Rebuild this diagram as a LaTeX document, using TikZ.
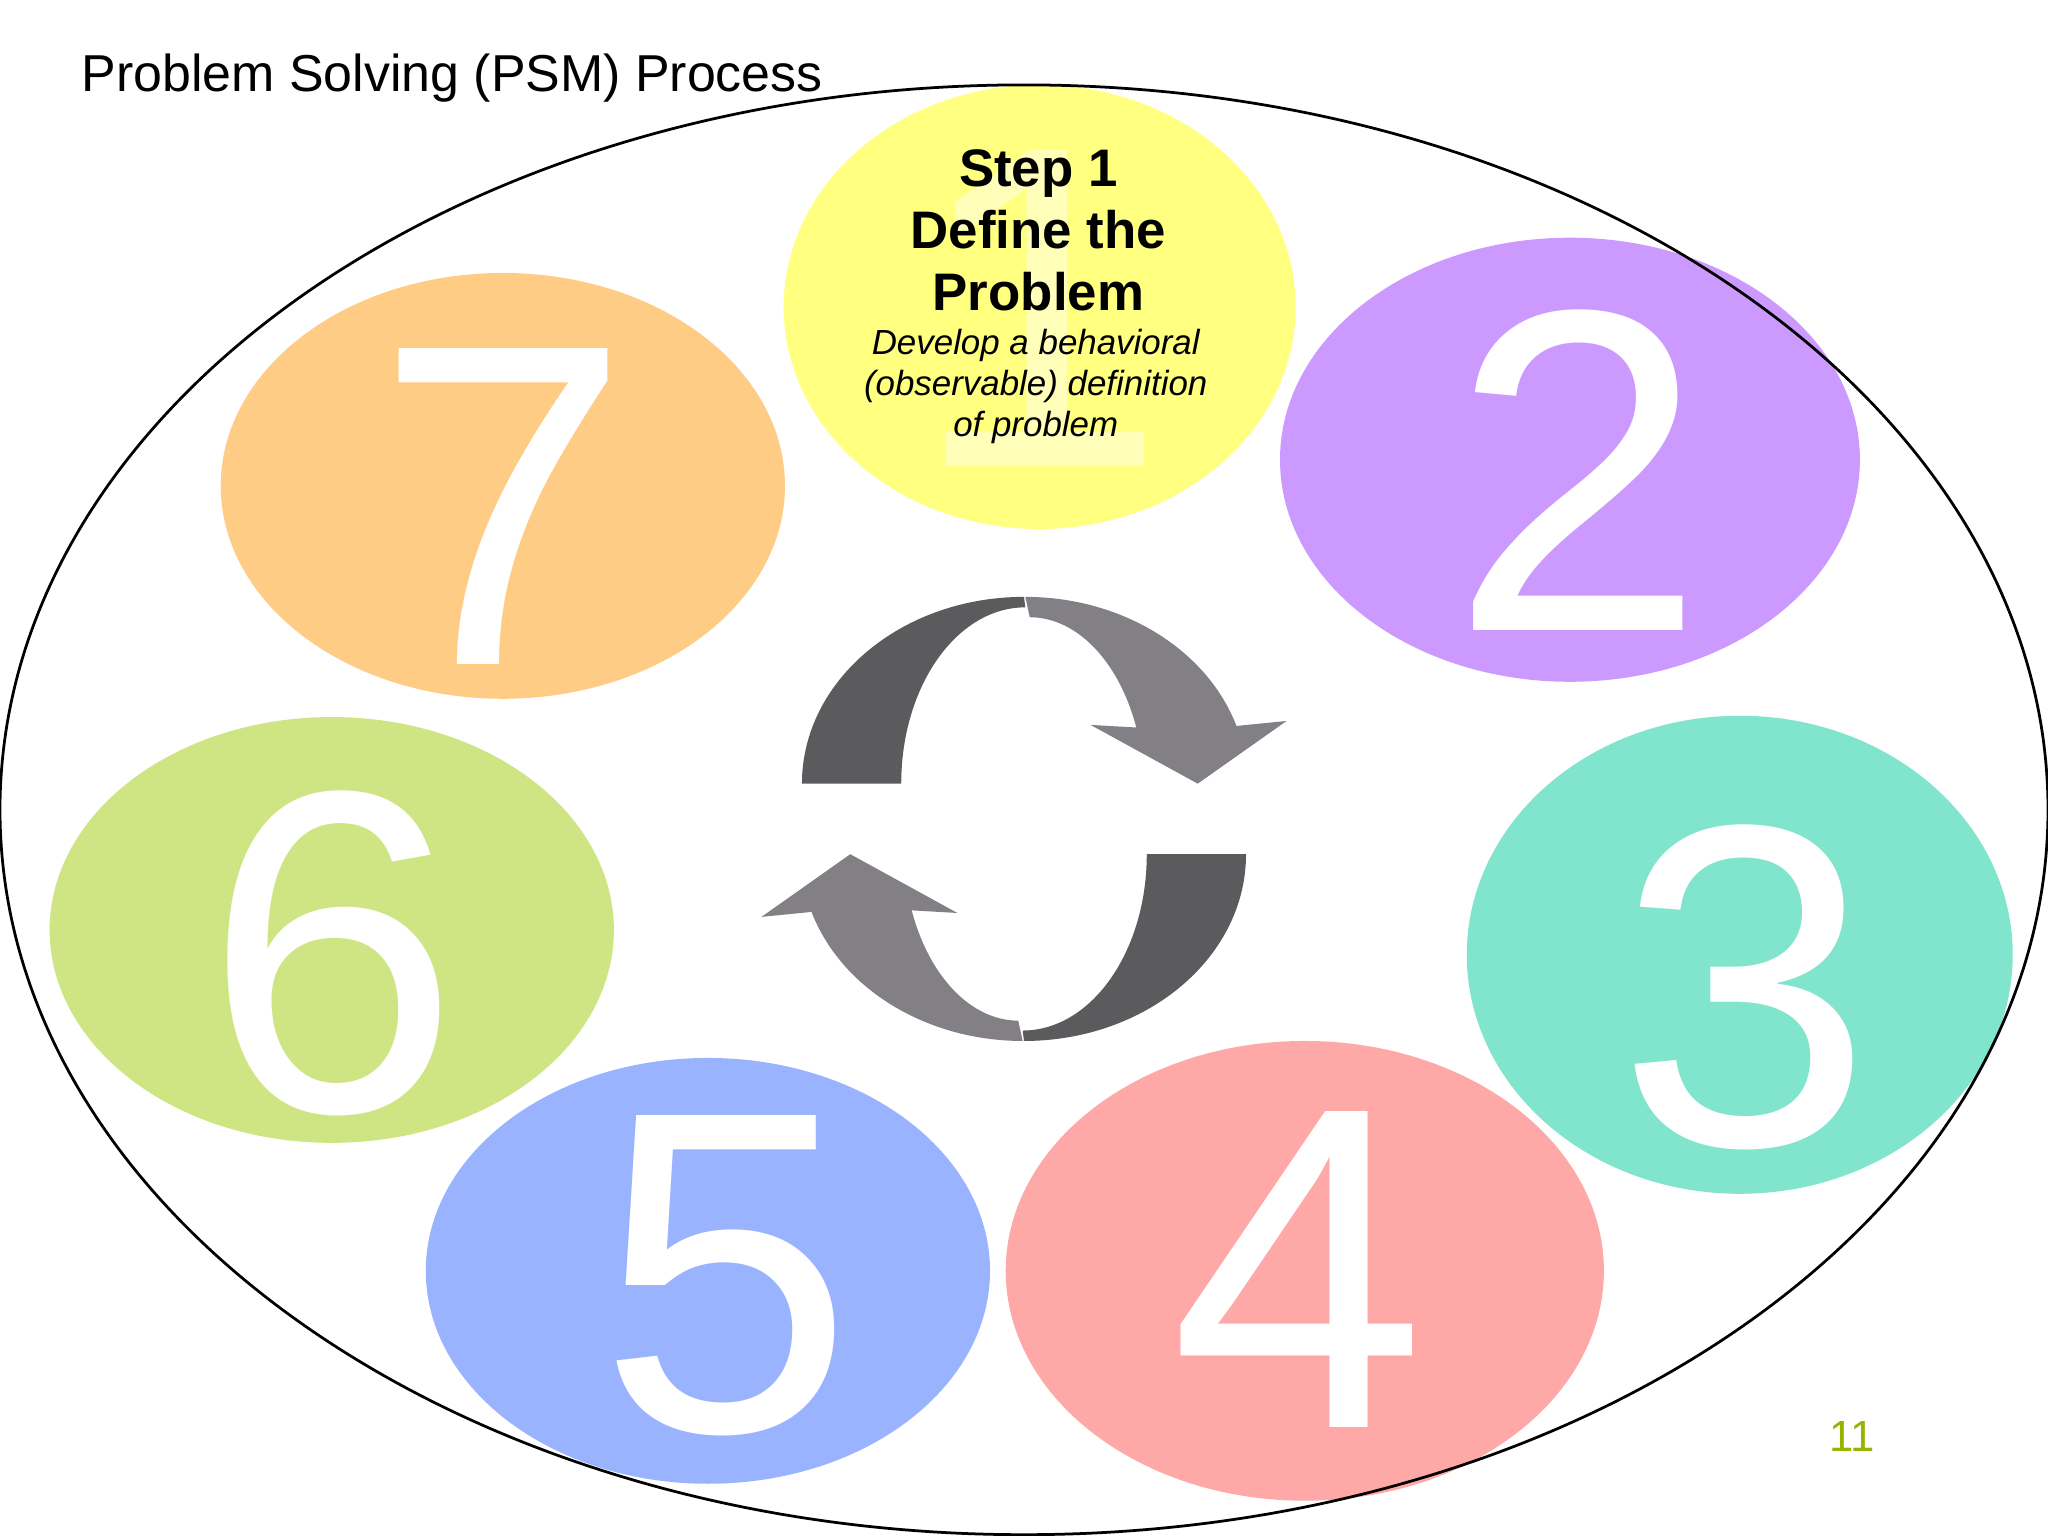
\documentclass[tikz,border=0pt]{standalone}
\usepackage{fontspec}
\setmainfont{Liberation Sans}
\definecolor{c1}{HTML}{FFFF80}
\definecolor{c2}{HTML}{CC99FF}
\definecolor{c3}{HTML}{80E5CC}
\definecolor{c4}{HTML}{FFA8A8}
\definecolor{c5}{HTML}{99B3FF}
\definecolor{c6}{HTML}{CFE584}
\definecolor{c7}{HTML}{FFCC85}
\definecolor{dkc}{HTML}{5B5A5D}
\definecolor{ltc}{HTML}{828084}
\definecolor{pgc}{HTML}{99B300}
\begin{document}
\begin{tikzpicture}[x=0.01cm,y=-0.01cm,
  num/.style={text=white,font=\fontsize{100}{100}\selectfont},
]
\useasboundingbox (0,0) rectangle (1568,1176);
\fill[white] (0,0) rectangle (1568,1176);
\fill[c1] (796,235) ellipse [x radius=196, y radius=170];
\fill[c2] (1202,352) ellipse [x radius=222, y radius=170];
\fill[c3] (1332,731) ellipse [x radius=209, y radius=183];
\fill[c4] (999,973) ellipse [x radius=229, y radius=176];
\fill[c5] (542,973) ellipse [x radius=216, y radius=163];
\fill[c6] (254,712) ellipse [x radius=216, y radius=163];
\fill[c7] (385,372) ellipse [x radius=216, y radius=163];
\draw[black,line width=0.6pt] (784,620) ellipse [x radius=784, y radius=555];
\node[num,text=white!45!c1] (n1) at (796,236) {1};
\node[num] (n2) at (1208,360) {2};
\node[num] (n3) at (1336,756) {3};
\node[num] (n4) at (994,972) {4};
\node[num] (n5) at (556,977) {5};
\node[num] (n6) at (254,730) {6};
\node[num] (n7) at (385,388) {7};
\node[align=center,font=\bfseries\fontsize{11.5}{13.5}\selectfont] (st) at (795,176) {Step 1\\Define the\\ Problem};
\node[align=center,font=\itshape\fontsize{7.6}{9}\selectfont] (sd) at (793,296) {Develop a behavioral\\(observable) definition\\ of problem};
\node[anchor=west,font=\fontsize{11.3}{13}\selectfont] (title) at (50,60) {Problem Solving (PSM) Process};
\node[font=\fontsize{9.5}{11}\selectfont,text=pgc] (pg) at (1418,1100) {11};
\foreach \r in {0,180}{
\begin{scope}[rotate around={\r:(784,627)}]
\fill[dkc] (614,600) arc[start angle=180,end angle=270,x radius=170,y radius=143]
  -- (785,465) arc[start angle=270,end angle=180,x radius=95,y radius=135] -- cycle;
\fill[ltc] (785,457) arc[start angle=-90,end angle=-18,x radius=170,y radius=143]
  -- (985,552) -- (917,600) -- (835,555) -- (870,557)
  arc[start angle=-22,end angle=-90,x radius=88,y radius=135] -- cycle;
\end{scope}}
\end{tikzpicture}
\end{document}
